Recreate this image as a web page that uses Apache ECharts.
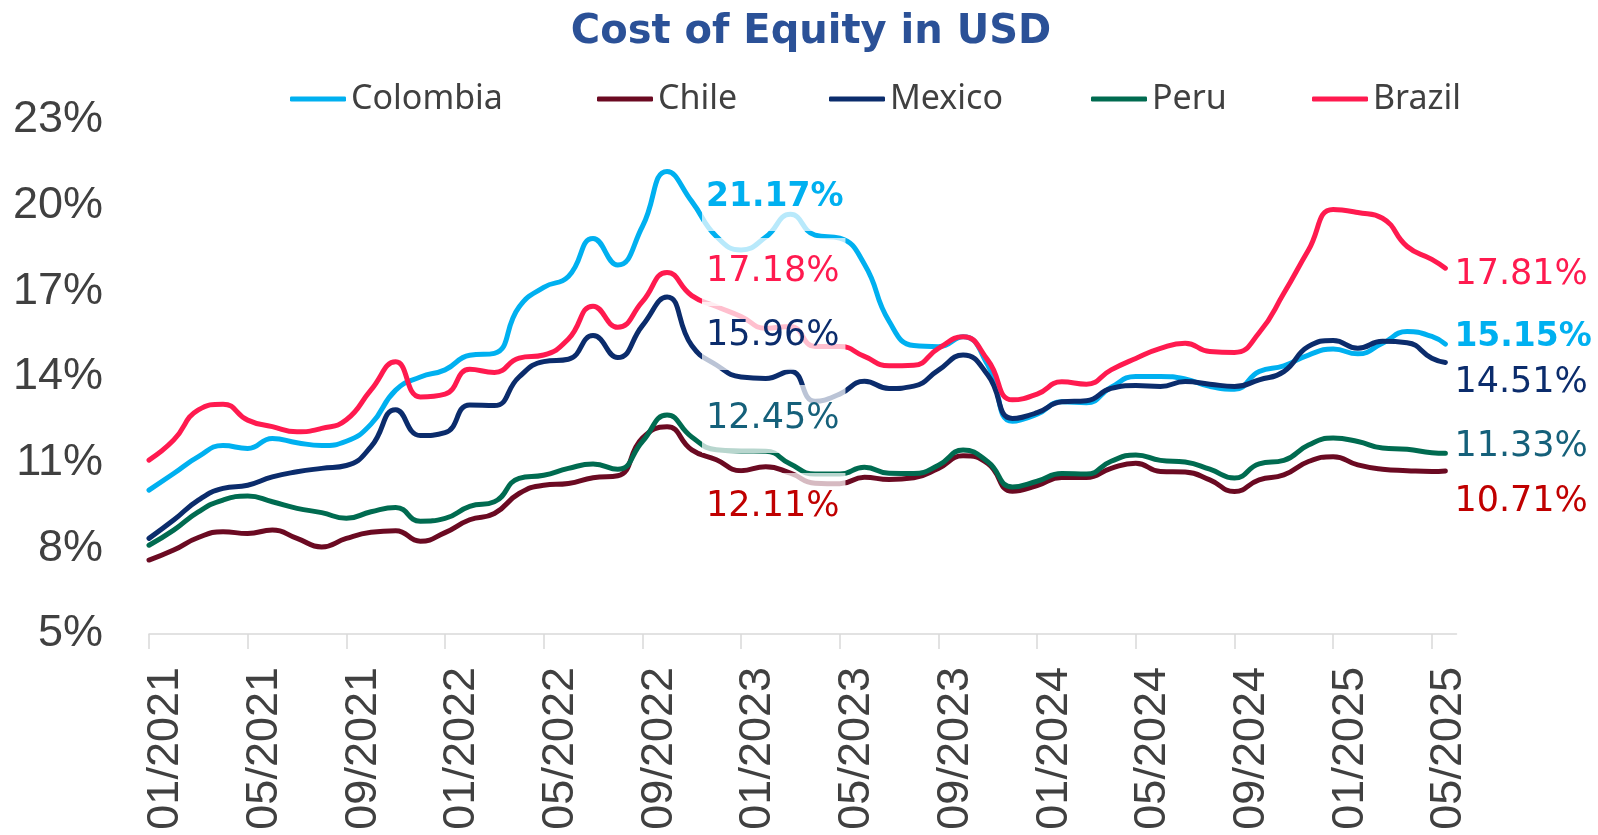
<!DOCTYPE html>
<html>
<head>
<meta charset="utf-8">
<title>Cost of Equity in USD</title>
<script src="https://cdn.jsdelivr.net/npm/echarts/dist/echarts.min.js"></script>
<style>
  html, body { margin: 0; padding: 0; background: #fff; }
  #chart { width: 1598px; height: 835px; }
</style>
</head>
<body>
<div id="chart"></div>
<script>
// monthly tick labels (x axis runs one month past the last label)
const months = [
  '01/2021', '02/2021', '03/2021', '04/2021', '05/2021', '06/2021', '07/2021', '08/2021', '09/2021', '10/2021', '11/2021', '12/2021',
  '01/2022', '02/2022', '03/2022', '04/2022', '05/2022', '06/2022', '07/2022', '08/2022', '09/2022', '10/2022', '11/2022', '12/2022',
  '01/2023', '02/2023', '03/2023', '04/2023', '05/2023', '06/2023', '07/2023', '08/2023', '09/2023', '10/2023', '11/2023', '12/2023',
  '01/2024', '02/2024', '03/2024', '04/2024', '05/2024', '06/2024', '07/2024', '08/2024', '09/2024', '10/2024', '11/2024', '12/2024',
  '01/2025', '02/2025', '03/2025', '04/2025', '05/2025'
];
// the last observation sits mid-May 2025
const lastObs = 52.55;

// cost of equity, % (one value per month, last one = latest reading)
const colombia = [10.04, 10.62, 11.21, 11.6, 11.5, 11.85, 11.7, 11.6, 11.75, 12.35, 13.54, 14.0, 14.25, 14.76,
  14.83, 16.45, 17.14, 17.52, 18.85, 17.92, 19.27, 21.2, 20.15, 18.92, 18.45, 18.9, 19.7, 18.97, 18.86, 17.95,
  15.95, 15.1, 15.06, 15.41, 14.42, 12.45, 12.7, 13.13, 13.1, 13.64, 14.02, 14.02, 13.93, 13.67, 13.57, 14.19,
  14.39, 14.77, 14.98, 14.81, 15.18, 15.59, 15.42, 15.15];
const chile = [7.59, 7.94, 8.38, 8.58, 8.52, 8.64, 8.35, 8.05, 8.35, 8.56, 8.62, 8.25, 8.55, 9.0,
  9.22, 9.92, 10.21, 10.27, 10.47, 10.54, 11.86, 12.26, 11.45, 11.1, 10.72, 10.86, 10.63, 10.28, 10.26, 10.49,
  10.41, 10.47, 10.8, 11.24, 10.97, 10.0, 10.2, 10.48, 10.48, 10.8, 10.98, 10.69, 10.67, 10.4, 9.99, 10.4,
  10.57, 11.04, 11.21, 10.92, 10.77, 10.72, 10.69, 10.71];
const mexico = [8.35, 8.99, 9.69, 10.1, 10.21, 10.5, 10.68, 10.8, 10.9, 11.56, 12.85, 11.95, 12.05, 13.02,
  13.0, 14.0, 14.54, 14.62, 15.45, 14.68, 15.8, 16.8, 15.1, 14.42, 14.0, 13.95, 14.2, 13.15, 13.4, 13.85,
  13.6, 13.68, 14.24, 14.77, 14.07, 12.55, 12.75, 13.13, 13.17, 13.6, 13.7, 13.67, 13.84, 13.75, 13.67, 13.9,
  14.19, 15.07, 15.28, 15.01, 15.25, 15.2, 14.66, 14.51];
const peru = [8.11, 8.64, 9.28, 9.69, 9.83, 9.63, 9.4, 9.25, 9.05, 9.28, 9.43, 8.95, 9.05, 9.47,
  9.63, 10.45, 10.56, 10.8, 10.95, 10.77, 11.74, 12.67, 11.9, 11.45, 11.41, 11.4, 10.95, 10.6, 10.6, 10.84,
  10.63, 10.62, 10.91, 11.44, 11.03, 10.15, 10.35, 10.62, 10.6, 11.05, 11.27, 11.08, 11.02, 10.77, 10.46, 10.96,
  11.08, 11.62, 11.86, 11.74, 11.51, 11.47, 11.35, 11.33];
const brazil = [11.09, 11.79, 12.85, 13.05, 12.49, 12.26, 12.08, 12.2, 12.5, 13.55, 14.53, 13.3, 13.4, 14.27,
  14.16, 14.66, 14.77, 15.33, 16.48, 15.74, 16.64, 17.66, 16.85, 16.47, 16.12, 15.71, 15.77, 15.07, 15.07, 14.72,
  14.39, 14.41, 15.0, 15.41, 14.59, 13.2, 13.4, 13.83, 13.75, 14.25, 14.65, 15.0, 15.18, 14.89, 14.86, 15.55,
  16.93, 18.45, 19.87, 19.76, 19.56, 18.57, 18.12, 17.81];

// values called out in the middle of the chart (late 2022)
const calloutNames = ['Colombia', 'Brazil', 'Mexico', 'Peru', 'Chile'];
const calloutValues = [21.17, 17.18, 15.96, 12.45, 12.11];

const names = ['Colombia', 'Chile', 'Mexico', 'Peru', 'Brazil'];
const seriesData = [colombia, chile, mexico, peru, brazil];

// styling
const lineColors = { Colombia: '#00B0F0', Chile: '#6B0A22', Mexico: '#0B2C6C', Peru: '#006B50', Brazil: '#FF1A4F' };
const labelColors = { Colombia: '#00B0F0', Chile: '#C00000', Mexico: '#0B2C6C', Peru: '#15607A', Brazil: '#FF1A4F' };
const endLabelShift = { Colombia: -7, Chile: 31, Mexico: 20, Peru: -6, Brazil: 7 };
const calloutY = [197, 272, 336, 419, 507];
const legendLeft = [290, 597, 829, 1091, 1312];

const tickVals = months.map((m, i) => i).filter(i => i % 4 === 0);

function toPoints(values) {
  return values.map((v, i) => [i < months.length ? i : lastObs, v]);
}

var myChart = echarts.init(document.getElementById('chart'));

var option = {
  backgroundColor: '#fff',
  animation: false,
  title: {
    text: 'Cost of Equity in USD',
    left: 806,
    textAlign: 'center',
    top: 8,
    textStyle: { color: '#2B5197', fontSize: 40, fontWeight: 'bold', fontFamily: 'DejaVu Sans' }
  },
  legend: names.map((n, i) => ({
    data: [n],
    left: legendLeft[i],
    top: 82,
    padding: 0,
    icon: 'roundRect',
    itemWidth: 56,
    itemHeight: 5,
    textStyle: { fontSize: 34, color: '#404040', fontFamily: 'Noto Sans' }
  })),
  grid: { left: 149, right: 141.5, top: 120, bottom: 201, containLabel: false, outerBoundsMode: 'none' },
  xAxis: {
    type: 'value',
    min: 0,
    max: 53,
    interval: 4,
    splitLine: { show: false },
    axisLine: { lineStyle: { color: '#D9D9D9', width: 1.5 } },
    axisTick: { customValues: tickVals, length: 15, lineStyle: { color: '#D9D9D9', width: 1.5 } },
    axisLabel: {
      customValues: tickVals,
      rotate: 90,
      margin: 33,
      verticalAlign: 'top',
      lineHeight: 34,
      fontSize: 45,
      color: '#404040',
      fontFamily: 'Liberation Sans',
      formatter: v => months[v] || ''
    }
  },
  yAxis: {
    type: 'value',
    min: 5,
    max: 23,
    interval: 3,
    axisLine: { show: false },
    axisTick: { show: false },
    splitLine: { show: false },
    axisLabel: { formatter: '{value}%', fontSize: 45, color: '#404040', margin: 46, fontFamily: 'Liberation Sans' }
  },
  series: names.map((n, i) => ({
    name: n,
    type: 'line',
    data: toPoints(seriesData[i]),
    smooth: 0.5,
    symbol: 'none',
    lineStyle: { color: lineColors[n], width: 5, cap: 'round', join: 'round' },
    itemStyle: { color: lineColors[n] },
    endLabel: {
      show: true,
      distance: 9,
      offset: [0, endLabelShift[n]],
      fontSize: n === 'Colombia' ? 33 : 35,
      fontWeight: n === 'Colombia' ? 'bold' : 'normal',
      fontFamily: 'DejaVu Sans',
      color: labelColors[n],
      formatter: p => p.value[1].toFixed(2) + '%'
    }
  })),
  graphic: calloutNames.map((n, i) => ({
    type: 'text',
    x: 702,
    y: calloutY[i],
    z: 100,
    style: {
      text: calloutValues[i].toFixed(2) + '%',
      fill: labelColors[n],
      fontSize: n === 'Colombia' ? 33 : 35,
      fontWeight: n === 'Colombia' ? 'bold' : 'normal',
      fontFamily: 'DejaVu Sans',
      verticalAlign: 'middle',
      lineHeight: 44,
      padding: [12, 6, 12, 4],
      backgroundColor: 'rgba(255,255,255,0.72)'
    }
  }))
};

myChart.setOption(option);
</script>
</body>
</html>
